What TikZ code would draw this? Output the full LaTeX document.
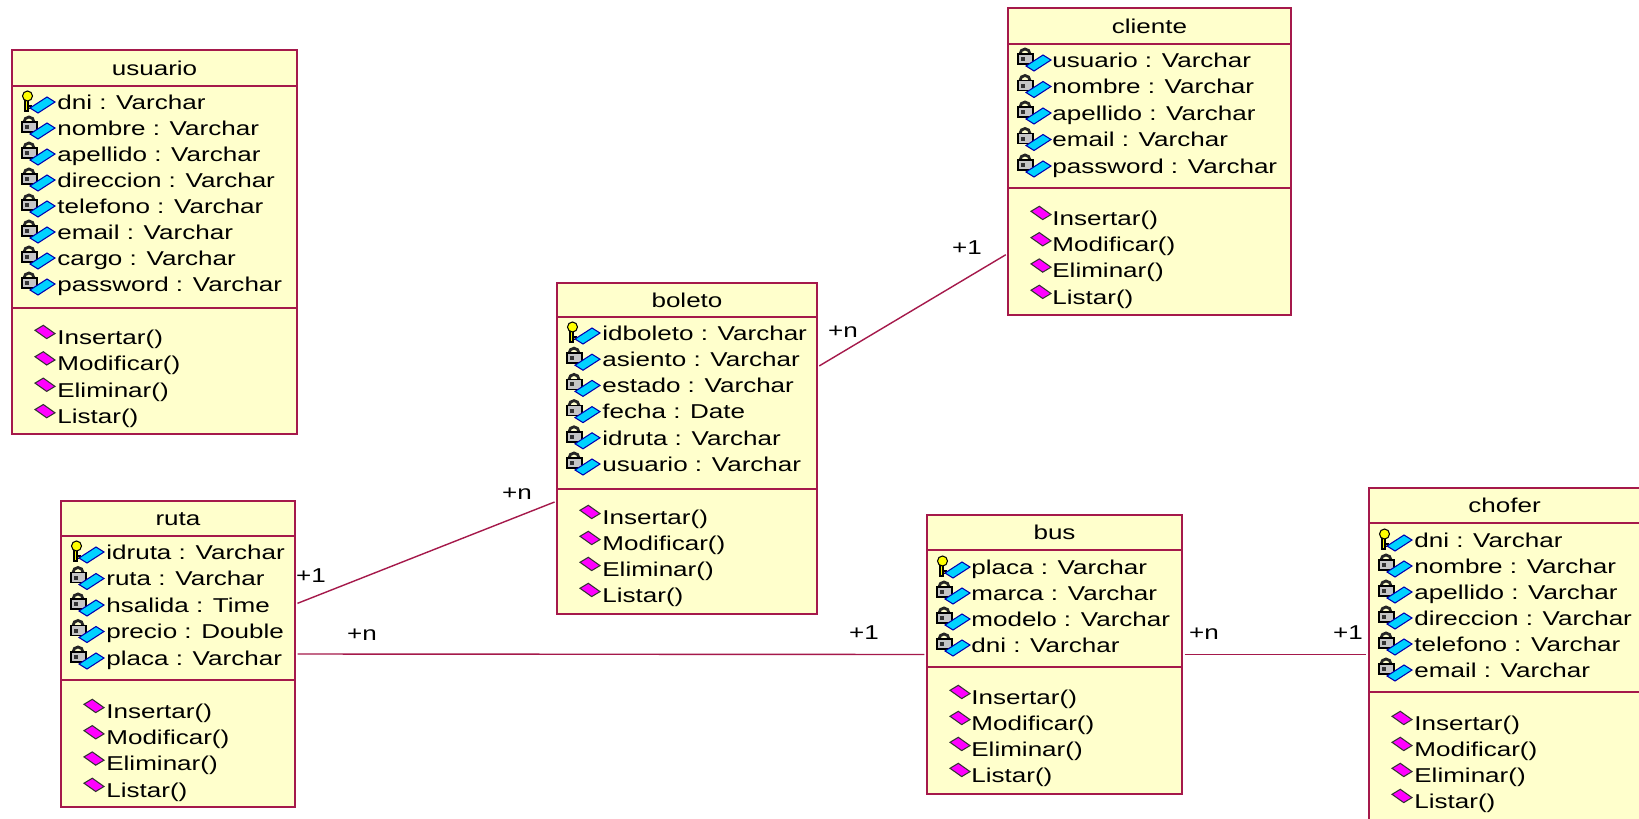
\documentclass[tikz,border=0pt]{standalone}
\usepackage{fontspec}
\setmainfont{Liberation Sans}[FakeStretch=1.3]
\usetikzlibrary{fit}
\definecolor{roseline}{RGB}{165,25,75}
\definecolor{rosefill}{RGB}{255,255,204}
\definecolor{attrblue}{RGB}{0,210,255}
\definecolor{opmagenta}{RGB}{255,0,255}
\definecolor{keyyellow}{RGB}{255,255,0}
\tikzset{
 classbox/.style={draw=roseline,fill=rosefill,line width=1.1pt,inner sep=0pt,outer sep=0pt},
 sepline/.style={draw=roseline,line width=1.1pt},
 assoc/.style={draw=roseline,line width=0.8pt,shorten <=1.5pt,shorten >=1.5pt},
 titletext/.style={inner sep=0pt,text height=8.2pt,text depth=0pt},
 membertext/.style={anchor=west,inner sep=0pt,text height=8.2pt,text depth=0pt},
 multlabel/.style={inner sep=0pt,text height=8.2pt,text depth=0pt},
 pics/lockicon/.style={code={
  \draw[line width=1.6pt,black!85] (-8,-6) arc[start angle=180,end angle=360,radius=5];
  \filldraw[fill=gray!45,draw=black,line width=0.9pt] (-10,-6) rectangle (5,4);
  \fill[black!80] (-7,-3) rectangle (-3,1);
  \filldraw[fill=attrblue,draw=blue!70!black,line width=0.6pt] (-2,6) -- (15,-5) -- (23,0) -- (6,11) -- cycle;
 }},
 pics/keyicon/.style={code={
  \filldraw[fill=keyyellow,draw=black,line width=0.6pt] (-7,-2) rectangle (-4,9);
  \filldraw[fill=keyyellow,draw=black,line width=0.6pt] (-4,4) rectangle (-1,6.5);
  \filldraw[fill=keyyellow,draw=black,line width=0.6pt] (-4.5,-6) circle[radius=5];
  \filldraw[fill=attrblue,draw=blue!70!black,line width=0.6pt] (-2,6) -- (15,-5) -- (23,0) -- (6,11) -- cycle;
 }},
 pics/opicon/.style={code={
  \filldraw[fill=opmagenta,draw=black!80,line width=0.6pt] (3,-6.7) -- (11.3,-11.7) -- (23,-3.4) -- (14.7,1.6) -- cycle;
 }}
}
\begin{document}
\begin{tikzpicture}[x=0.02cm,y=-0.02cm,font=\fontsize{11.4}{13}\selectfont]
\useasboundingbox (0,0) rectangle (1639,818);
\fill[white] (0,0) rectangle (1639,818);
\clip (0,0) rectangle (1639,818);

% usuario
\node[classbox,fit={(12,50) (297,434)}] (usuario) {};
\draw[sepline] (12,86) -- (297,86);
\draw[sepline] (12,308) -- (297,308);
\node[titletext] (usuario-t) at (154.5,68) {usuario};
\pic at (32,102) {keyicon};
\node[membertext] (usuario-a0) at (57,102) {dni : Varchar};
\foreach \txt [count=\i] in {nombre : Varchar,apellido : Varchar,direccion : Varchar,telefono : Varchar,email : Varchar,cargo : Varchar,password : Varchar}
 {\pic at (32,{102+26*\i}) {lockicon};
  \node[membertext] (usuario-a\i) at (57,{102+26*\i}) {\txt};}
\foreach \txt [count=\i from 0] in {Insertar(),Modificar(),Eliminar(),Listar()}
 {\pic at (32,{337+26.4*\i}) {opicon};
  \node[membertext] (usuario-m\i) at (57,{337+26.4*\i}) {\txt};}

% boleto
\node[classbox,fit={(557,283) (817,614)}] (boleto) {};
\draw[sepline] (557,317) -- (817,317);
\draw[sepline] (557,489) -- (817,489);
\node[titletext] (boleto-t) at (687,300) {boleto};
\pic at (577,333) {keyicon};
\node[membertext] (boleto-a0) at (602,333) {idboleto : Varchar};
\foreach \txt [count=\i] in {asiento : Varchar,estado : Varchar,fecha : Date,idruta : Varchar,usuario : Varchar}
 {\pic at (577,{333+26.2*\i}) {lockicon};
  \node[membertext] (boleto-a\i) at (602,{333+26.2*\i}) {\txt};}
\foreach \txt [count=\i from 0] in {Insertar(),Modificar(),Eliminar(),Listar()}
 {\pic at (577,{517+26*\i}) {opicon};
  \node[membertext] (boleto-m\i) at (602,{517+26*\i}) {\txt};}

% cliente
\node[classbox,fit={(1008,8) (1291,315)}] (cliente) {};
\draw[sepline] (1008,44) -- (1291,44);
\draw[sepline] (1008,188) -- (1291,188);
\node[titletext] (cliente-t) at (1149.5,26) {cliente};
\foreach \txt [count=\i from 0] in {usuario : Varchar,nombre : Varchar,apellido : Varchar,email : Varchar,password : Varchar}
 {\pic at (1028,{60+26.5*\i}) {lockicon};
  \node[membertext] (cliente-a\i) at (1052,{60+26.5*\i}) {\txt};}
\foreach \txt [count=\i from 0] in {Insertar(),Modificar(),Eliminar(),Listar()}
 {\pic at (1028,{218+26.3*\i}) {opicon};
  \node[membertext] (cliente-m\i) at (1052,{218+26.3*\i}) {\txt};}

% ruta
\node[classbox,fit={(61,501) (295,807)}] (ruta) {};
\draw[sepline] (61,536) -- (295,536);
\draw[sepline] (61,680) -- (295,680);
\node[titletext] (ruta-t) at (178,518.5) {ruta};
\pic at (81,552) {keyicon};
\node[membertext] (ruta-a0) at (106,552) {idruta : Varchar};
\foreach \txt [count=\i] in {ruta : Varchar,hsalida : Time,precio : Double,placa : Varchar}
 {\pic at (81,{552+26.5*\i}) {lockicon};
  \node[membertext] (ruta-a\i) at (106,{552+26.5*\i}) {\txt};}
\foreach \txt [count=\i from 0] in {Insertar(),Modificar(),Eliminar(),Listar()}
 {\pic at (81,{711+26.3*\i}) {opicon};
  \node[membertext] (ruta-m\i) at (106,{711+26.3*\i}) {\txt};}

% bus
\node[classbox,fit={(927,515) (1182,794)}] (bus) {};
\draw[sepline] (927,550) -- (1182,550);
\draw[sepline] (927,667) -- (1182,667);
\node[titletext] (bus-t) at (1054.5,532.5) {bus};
\pic at (947,567) {keyicon};
\node[membertext] (bus-a0) at (971,567) {placa : Varchar};
\foreach \txt [count=\i] in {marca : Varchar,modelo : Varchar,dni : Varchar}
 {\pic at (947,{567+26*\i}) {lockicon};
  \node[membertext] (bus-a\i) at (971,{567+26*\i}) {\txt};}
\foreach \txt [count=\i from 0] in {Insertar(),Modificar(),Eliminar(),Listar()}
 {\pic at (947,{697+26*\i}) {opicon};
  \node[membertext] (bus-m\i) at (971,{697+26*\i}) {\txt};}

% chofer
\node[classbox,fit={(1369,488) (1640,821)}] (chofer) {};
\draw[sepline] (1369,523) -- (1640,523);
\draw[sepline] (1369,692) -- (1640,692);
\node[titletext] (chofer-t) at (1504.5,505.5) {chofer};
\pic at (1389,540) {keyicon};
\node[membertext] (chofer-a0) at (1414,540) {dni : Varchar};
\foreach \txt [count=\i] in {nombre : Varchar,apellido : Varchar,direccion : Varchar,telefono : Varchar,email : Varchar}
 {\pic at (1389,{540+26*\i}) {lockicon};
  \node[membertext] (chofer-a\i) at (1414,{540+26*\i}) {\txt};}
\foreach \txt [count=\i from 0] in {Insertar(),Modificar(),Eliminar(),Listar()}
 {\pic at (1389,{723+26*\i}) {opicon};
  \node[membertext] (chofer-m\i) at (1414,{723+26*\i}) {\txt};}

% associations
\draw[assoc] (ruta.23) -- (boleto.202);
\draw[assoc] (boleto.32) -- (cliente.213);
\draw[assoc] (ruta.east) -- (bus.west);
\draw[assoc] (bus.east) -- (chofer.west);
\node[multlabel] (m1) at (843,330) {+n};
\node[multlabel] (m2) at (967,247) {+1};
\node[multlabel] (m3) at (311,575) {+1};
\node[multlabel] (m4) at (517,492) {+n};
\node[multlabel] (m5) at (362,633) {+n};
\node[multlabel] (m6) at (864,632) {+1};
\node[multlabel] (m7) at (1204,632) {+n};
\node[multlabel] (m8) at (1348,632) {+1};
\end{tikzpicture}
\end{document}
